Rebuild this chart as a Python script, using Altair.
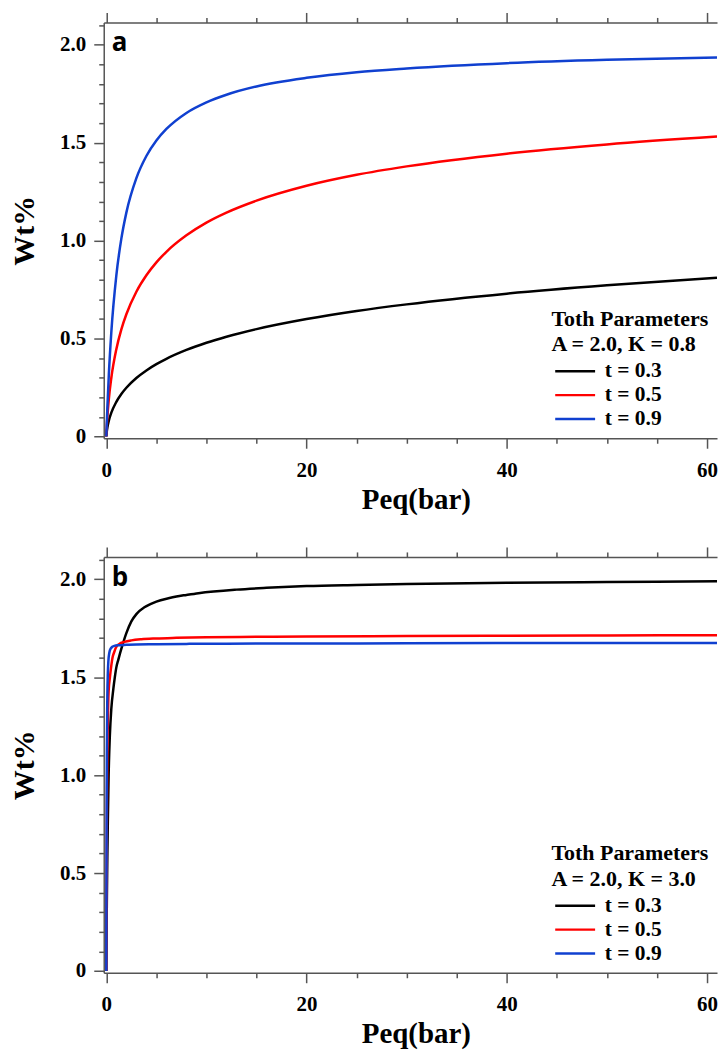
import altair as alt
import pandas as pd

# ---------------- data ----------------
SERIES = ["t = 0.3", "t = 0.5", "t = 0.9"]
COLORS = ["#000000", "#ff0000", "#1040d0"]

# Panel a : A = 2.0, K = 0.8
P_A = [0, 0.02, 0.05, 0.1, 0.25, 0.5, 1, 1.5, 2, 3, 4, 5, 6, 8, 10, 12, 15, 20, 25, 30, 40, 50, 61]
W_A_03 = [0, 0.0137, 0.0273, 0.0444, 0.0806, 0.1216, 0.1771, 0.2171, 0.2489, 0.2987, 0.3374, 0.3694,
          0.3967, 0.4418, 0.4785, 0.5093, 0.5481, 0.5995, 0.6406, 0.6745, 0.7292, 0.7716, 0.810]
W_A_05 = [0, 0.0252, 0.0556, 0.0972, 0.191, 0.300, 0.446, 0.547, 0.624, 0.739, 0.823, 0.889,
          0.943, 1.027, 1.092, 1.143, 1.204, 1.280, 1.336, 1.379, 1.444, 1.491, 1.531]
W_A_09 = [0, 0.0312, 0.0754, 0.1435, 0.3164, 0.534, 0.823, 1.010, 1.143, 1.319, 1.432, 1.511,
          1.570, 1.652, 1.706, 1.745, 1.787, 1.831, 1.860, 1.879, 1.906, 1.923, 1.935]

# Panel b : A = 2.0, K = 3.0
P_B_03 = [0, 0.05, 0.1, 0.15, 0.23, 0.35, 0.5, 0.7, 0.85, 1.0, 1.2, 1.6, 2.0, 2.5, 3.0, 3.8, 4.4,
          5, 6.2, 7, 8, 9.2, 13, 16, 20, 25, 30, 40, 50, 61]
W_B_03 = [0, 0.35, 0.58, 0.76, 1.0, 1.2, 1.34, 1.44, 1.5, 1.55, 1.59, 1.662, 1.725, 1.785, 1.822,
          1.857, 1.873, 1.886, 1.903, 1.912, 1.92, 1.929, 1.947, 1.956, 1.965, 1.971, 1.976, 1.982,
          1.986, 1.99]
P_B_05 = [0, 0.03, 0.06, 0.1, 0.15, 0.23, 0.36, 0.5, 0.62, 0.8, 0.95, 1.3, 1.8, 2.5, 3.5, 5, 7,
          10, 15, 20, 30, 40, 50, 61]
W_B_05 = [0, 0.5, 0.85, 1.1, 1.27, 1.43, 1.5, 1.56, 1.6, 1.63, 1.65, 1.67, 1.68, 1.688, 1.694,
          1.698, 1.701, 1.704, 1.706, 1.708, 1.71, 1.712, 1.713, 1.714]
P_B_09 = [0, 0.01, 0.02, 0.05, 0.1, 0.15, 0.2, 0.3, 0.4, 0.6, 0.8, 1.2, 2, 3, 5, 8, 12, 20, 30,
          40, 50, 61]
W_B_09 = [0, 0.35, 0.6, 1.1, 1.4, 1.52, 1.58, 1.625, 1.643, 1.655, 1.66, 1.663, 1.665, 1.667,
          1.668, 1.67, 1.671, 1.672, 1.673, 1.674, 1.674, 1.675]

X_TICKS = [0, 5, 10, 15, 20, 25, 30, 35, 40, 45, 50, 55, 60]
X_LABELS = [0, 20, 40, 60]
Y_TICKS = [0, 0.1, 0.2, 0.3, 0.4, 0.5, 0.6, 0.7, 0.8, 0.9, 1.0, 1.1, 1.2, 1.3, 1.4, 1.5, 1.6,
           1.7, 1.8, 1.9, 2.0, 2.1]
Y_LABELS = [0, 0.5, 1.0, 1.5, 2.0]

PANEL_A_LEGEND = ["Toth Parameters", "A = 2.0, K = 0.8"]
PANEL_B_LEGEND = ["Toth Parameters", "A = 2.0, K = 3.0"]


def frame(pairs):
    rows = []
    for name, ps, ws in pairs:
        for p, w in zip(ps, ws):
            rows.append({"P": p, "W": w, "series": name})
    return pd.DataFrame(rows)


df_a = frame([(SERIES[0], P_A, W_A_03), (SERIES[1], P_A, W_A_05), (SERIES[2], P_A, W_A_09)])
df_b = frame([(SERIES[0], P_B_03, W_B_03), (SERIES[1], P_B_05, W_B_05), (SERIES[2], P_B_09, W_B_09)])

SERIF = "Liberation Serif"
AX_COL = "#555555"
W_PLOT = 615
H_PLOT = 417

x_major = "datum.value % 20 === 0"
y_major = "abs(datum.value * 2 - round(datum.value * 2)) < 0.001"

x_scale = alt.Scale(domain=[-0.26, 61.0], nice=False, zero=False)
y_scale = alt.Scale(domain=[-0.009, 2.114], nice=False, zero=False)

tick_axis = dict(grid=False, labels=False, title=None, domainColor=AX_COL, domainWidth=1.5,
                 tickColor=AX_COL, tickWidth=1.5)

label_axis = dict(grid=False, ticks=False, tickSize=0, domain=False, labelFont=SERIF,
                  labelFontWeight="bold", labelFontSize=21, labelColor="#000000",
                  titleFont=SERIF, titleFontWeight="bold", titleColor="#000000",
                  labelFlush=False, labelOverlap=False)


def panel(df, letter, legend_title):
    base = alt.Chart(df)
    lines = base.mark_line(strokeWidth=2.5, interpolate="monotone", clip=True).encode(
        x=alt.X(
            "P:Q",
            scale=x_scale,
            axis=alt.Axis(
                values=X_TICKS,
                tickSize={"condition": {"test": x_major, "value": 10}, "value": 5},
                **tick_axis,
            ),
        ),
        y=alt.Y(
            "W:Q",
            scale=y_scale,
            axis=alt.Axis(
                values=Y_TICKS,
                tickSize={"condition": {"test": y_major, "value": 10}, "value": 5},
                **tick_axis,
            ),
        ),
        color=alt.Color(
            "series:N",
            scale=alt.Scale(domain=SERIES, range=COLORS),
            legend=alt.Legend(
                title=legend_title,
                orient="none",
                legendX=449,
                legendY=287,
                padding=0,
                titleFont=SERIF,
                titleFontWeight="bold",
                titleFontSize=22,
                titleLineHeight=26,
                titleColor="#000000",
                titlePadding=4,
                labelFont=SERIF,
                labelFontWeight="bold",
                labelFontSize=21.5,
                labelColor="#000000",
                symbolType="M-4,0L4,0",
                symbolSize=100,
                symbolStrokeWidth=2.5,
                symbolOffset=13,
                labelOffset=19,
                rowPadding=1,
            ),
        ),
    )
    labels_layer = base.mark_point(opacity=0).encode(
        x=alt.X(
            "P:Q",
            scale=x_scale,
            axis=alt.Axis(
                orient="bottom",
                values=X_LABELS,
                labelPadding=21,
                title="Peq(bar)",
                titleFontSize=29,
                titleBaseline="top",
                titleAlign="center",
                titleX=313,
                titleY=47,
                **label_axis,
            ),
        ),
        y=alt.Y(
            "W:Q",
            scale=y_scale,
            axis=alt.Axis(
                orient="left",
                values=Y_LABELS,
                labelExpr="datum.value == 0 ? '0' : format(datum.value, '.1f')",
                labelPadding=18,
                title="Wt%",
                titleFontSize=30,
                titleBaseline="bottom",
                titleX=-64,
                **label_axis,
            ),
        ),
    )
    top_axis = base.mark_point(opacity=0).encode(
        x=alt.X(
            "P:Q",
            scale=x_scale,
            axis=alt.Axis(
                orient="top",
                values=X_TICKS,
                tickSize={"condition": {"test": x_major, "value": 10}, "value": 5},
                **tick_axis,
            ),
        )
    )
    tag = alt.Chart(pd.DataFrame({"label": [letter]})).mark_text(
        font="Open Sans", fontWeight="bold", fontSize=26, align="left", baseline="middle",
        color="#000000",
    ).encode(text="label:N", x=alt.value(8), y=alt.value(21))
    return (
        alt.layer(lines, labels_layer, top_axis, tag)
        .resolve_axis(x="independent", y="independent")
        .properties(width=W_PLOT, height=H_PLOT)
    )


chart = (
    alt.vconcat(panel(df_a, "a", PANEL_A_LEGEND), panel(df_b, "b", PANEL_B_LEGEND), spacing=32)
    .resolve_scale(color="independent")
    .properties(padding={"left": 2, "top": 2, "right": 0, "bottom": 0})
    .configure_view(strokeWidth=0)
)

chart.save("out.html", embed_options={"renderer": "svg", "actions": False})
